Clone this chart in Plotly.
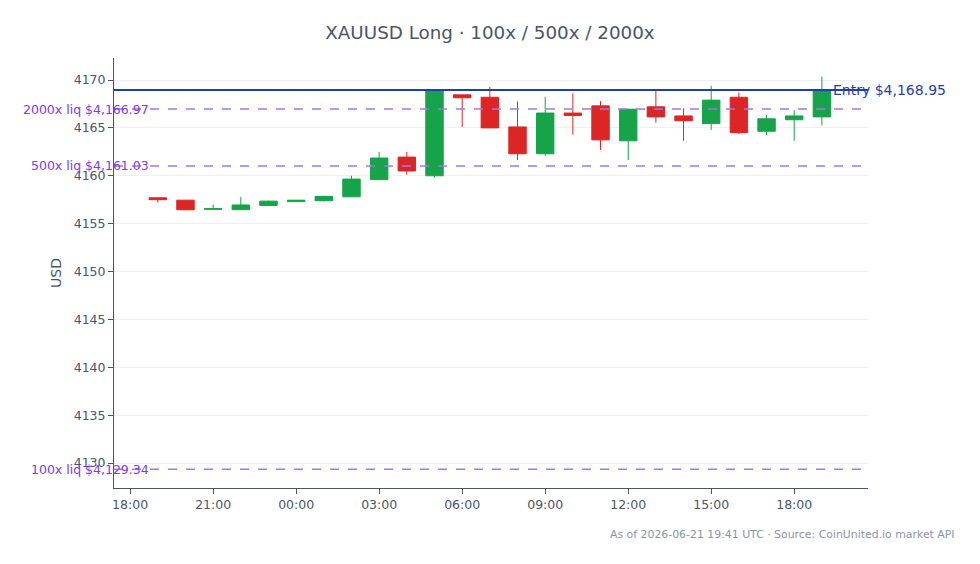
import plotly.graph_objects as go
import pandas as pd

times = pd.date_range("2026-06-20 19:00", periods=25, freq="h")
opens = [4157.70, 4157.45, 4156.50, 4156.46, 4156.90, 4157.30, 4157.40, 4157.80, 4159.60, 4161.95,
         4160.00, 4168.45, 4168.20, 4165.10, 4162.30, 4166.55, 4167.30, 4163.65, 4167.20, 4166.25,
         4165.45, 4168.20, 4164.65, 4165.85, 4166.15]
highs = [4157.72, 4157.47, 4157.00, 4157.80, 4157.40, 4157.48, 4157.90, 4160.00, 4162.50, 4162.50,
         4168.90, 4168.45, 4169.30, 4167.75, 4168.25, 4168.60, 4167.80, 4167.00, 4168.90, 4167.05,
         4169.40, 4168.70, 4166.35, 4166.85, 4170.35]
lows = [4157.20, 4156.44, 4156.48, 4156.44, 4156.85, 4157.28, 4157.30, 4157.78, 4159.55, 4160.10,
        4159.80, 4165.10, 4165.00, 4161.65, 4162.10, 4164.30, 4162.70, 4161.65, 4165.55, 4163.65,
        4164.80, 4164.35, 4164.25, 4163.65, 4165.25]
closes = [4157.50, 4156.45, 4156.55, 4156.95, 4157.35, 4157.45, 4157.85, 4159.65, 4161.85, 4160.50,
          4168.90, 4168.15, 4165.00, 4162.30, 4166.55, 4166.30, 4163.75, 4166.95, 4166.15, 4165.75,
          4167.90, 4164.50, 4165.95, 4166.25, 4168.95]

entry_price = 4168.95
liq_labels = ["2000x liq $4,166.97", "500x liq $4,161.03", "100x liq $4,129.34"]
liq_prices = [4166.97, 4161.03, 4129.34]
y_ticks = [4130, 4135, 4140, 4145, 4150, 4155, 4160, 4165, 4170]

FONT = "DejaVu Sans"
axis_color = "#4a5568"
purple_line = "#9f7aea"
purple_text = "#7c3aed"
blue = "#1e40af"

fig = go.Figure()
fig.add_trace(go.Candlestick(
    x=times, open=opens, high=highs, low=lows, close=closes,
    increasing=dict(line=dict(color="#16a34a", width=1), fillcolor="#16a34a"),
    decreasing=dict(line=dict(color="#dc2626", width=1), fillcolor="#dc2626"),
    showlegend=False,
))

for lbl, p in zip(liq_labels, liq_prices):
    fig.add_shape(type="line", xref="paper", x0=0, x1=1, yref="y", y0=p, y1=p,
                  line=dict(color=purple_line, width=1.5, dash="dash"))
    fig.add_annotation(xref="paper", x=0, y=p, yref="y", text=lbl, showarrow=False,
                       xanchor="right", yanchor="middle", xshift=37,
                       font=dict(color=purple_text, size=12.5, family=FONT))

fig.add_shape(type="line", xref="paper", x0=0, x1=1, yref="y", y0=entry_price, y1=entry_price,
              line=dict(color=blue, width=2))
fig.add_annotation(xref="paper", x=1, y=entry_price, yref="y", text=f"Entry ${entry_price:,.2f}",
                   showarrow=False, xanchor="left", yanchor="middle", xshift=-37,
                   font=dict(color=blue, size=14, family=FONT))

fig.add_annotation(xref="paper", yref="paper", x=1.118, y=-0.107,
                   text="As of 2026-06-21 19:41 UTC · Source: CoinUnited.io market API",
                   showarrow=False, xanchor="right", yanchor="middle",
                   font=dict(color="#8a94a6", size=10.9, family=FONT))

fig.update_layout(
    width=980, height=564,
    margin=dict(l=114, r=112, t=58, b=76),
    paper_bgcolor="white", plot_bgcolor="white",
    boxgap=0.1,
    title=dict(text="XAUUSD Long · 100x / 500x / 2000x", x=0.5, xanchor="center",
               y=1 - 33 / 564, yanchor="middle",
               font=dict(size=18.3, color=axis_color, family=FONT)),
    font=dict(color=axis_color, family=FONT),
    xaxis=dict(
        rangeslider=dict(visible=False),
        range=[pd.Timestamp("2026-06-20 17:25"), pd.Timestamp("2026-06-21 20:40")],
        tickformat="%H:%M", dtick=3 * 3600 * 1000,
        tick0=pd.Timestamp("2026-06-20 18:00"),
        showgrid=False, showline=True, linecolor=axis_color, linewidth=1,
        ticks="outside", tickcolor=axis_color, ticklen=5,
        tickfont=dict(size=12.5, color=axis_color, family=FONT),
    ),
    yaxis=dict(
        title=dict(text="USD", standoff=8, font=dict(size=14, color=axis_color, family=FONT)),
        range=[4127.39, 4172.3],
        tickvals=y_ticks,
        showgrid=True, gridcolor="#eef0f4",
        showline=True, linecolor=axis_color, linewidth=1,
        ticks="outside", tickcolor=axis_color, ticklen=5,
        tickfont=dict(size=12.5, color=axis_color, family=FONT),
        zeroline=False,
    ),
)

fig.write_html("out.html")
